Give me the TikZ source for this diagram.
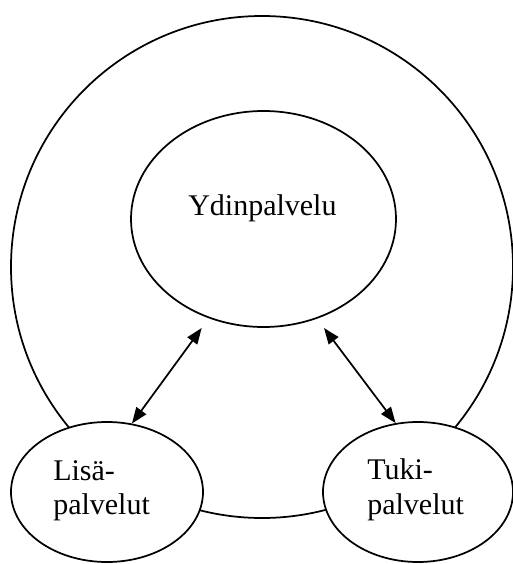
\documentclass[tikz,border=0pt]{standalone}
\usepackage{fontspec}
\setmainfont{Liberation Serif}
\usetikzlibrary{shapes.geometric,arrows.meta}
\tikzset{
  ring/.style={draw, line width=1.3pt, ellipse, inner sep=0pt},
  lbl/.style={anchor=base west, inner sep=0pt, font=\fontsize{22.5pt}{25.5pt}\selectfont},
  link/.style={line width=1.3pt, {Triangle[length=12pt,width=9pt]}-{Triangle[length=12pt,width=9pt]}}
}
\begin{document}
\begin{tikzpicture}[x=0.75pt,y=-0.75pt]
\useasboundingbox (0,0) rectangle (513,564);
\node[ring, circle, minimum size=376.5pt] (outer) at (262,267) {};
\node[ring, minimum width=198.75pt, minimum height=162pt] (core) at (263.5,219) {};
\node[ring, fill=white, minimum width=144pt, minimum height=105pt] (lisa) at (107,492) {};
\node[ring, fill=white, minimum width=142.5pt, minimum height=105pt] (tuki) at (418,492) {};
\node[lbl] (t1) at (188,215) {Ydinpalvelu};
\node[lbl] (t2) at (53,480) {Lisä-};
\node[lbl] (t3) at (53,514) {palvelut};
\node[lbl] (t4) at (367,479) {Tuki-};
\node[lbl] (t5) at (367,514) {palvelut};
\coordinate (cl) at (201.7,328);
\coordinate (cr) at (324,328);
\draw[link] (cl) -- (lisa.70);
\draw[link] (cr) -- (tuki.108);
\end{tikzpicture}
\end{document}
